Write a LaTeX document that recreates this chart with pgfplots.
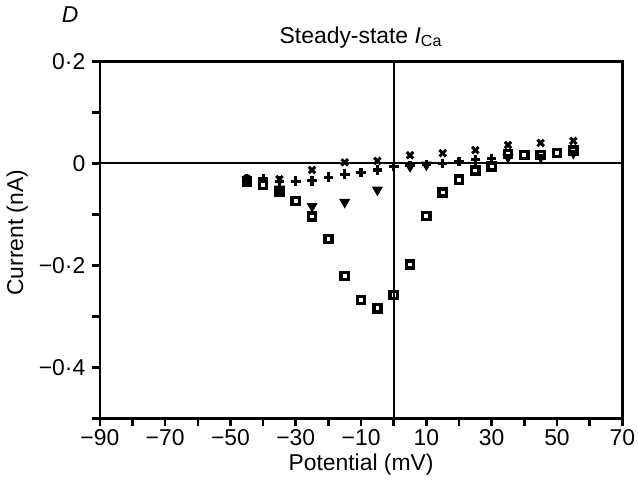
\documentclass[border=0pt]{standalone}
\usepackage{fontspec}
\setmainfont{Liberation Sans}
\usepackage{pgfplots}
\pgfplotsset{compat=1.18}
\begin{document}
\begin{tikzpicture}
\begin{axis}[
  scale only axis,
  width=262.5pt, height=179.5pt,
  xmin=-90, xmax=70, ymin=-0.5, ymax=0.2,
  clip=false,
  font=\fontsize{11.5}{13}\selectfont,
  axis line style={line width=1.3pt},
  every tick/.style={line width=1.3pt, black},
  major tick length=3.8pt,
  tick align=outside,
  xtick pos=bottom, ytick pos=left,
  xtick={-90,-80,-70,-60,-50,-40,-30,-20,-10,0,10,20,30,40,50,60,70},
  xticklabels={−90,,−70,,−50,,−30,,−10,,10,,30,,50,,70},
  ytick={-0.5,-0.4,-0.3,-0.2,-0.1,0,0.1,0.2},
  yticklabels={,−0·4,,−0·2,,0,,0·2},
  xticklabel style={inner sep=1.5pt},
  title={Steady-state \textit{I}\textsubscript{Ca}},
  title style={at={(axis description cs:0.5,1.017)}, anchor=base},
  xlabel={Potential (mV)},
  xlabel style={at={(axis description cs:0.5,-0.145)}, anchor=base},
  ylabel={Current (nA)},
  ylabel style={at={(axis description cs:-0.158,0.52)}, anchor=center},
]
\path (rel axis cs:-0.1905,1.1671) rectangle (rel axis cs:1.0248,-0.1671);
\draw[line width=1.1pt] (axis cs:0,-0.5) -- (axis cs:0,0.2);
\draw[line width=1.1pt] (axis cs:-90,0) -- (axis cs:70,0);
\node[font=\fontsize{11.5}{13}\selectfont\itshape] at (rel axis cs:-0.057,1.131) {D};

% open squares
\addplot[only marks, mark=square, mark size=1.8pt, line width=1.7pt, black] coordinates {
(-45,-0.035) (-40,-0.042) (-35,-0.055) (-30,-0.074) (-25,-0.104) (-20,-0.148)
(-15,-0.221) (-10,-0.268) (-5,-0.284) (0,-0.258) (5,-0.198) (10,-0.103)
(15,-0.057) (20,-0.032) (25,-0.014) (30,-0.006) (35,0.018) (40,0.016)
(45,0.016) (50,0.02) (55,0.025)};
% filled triangles (down)
\addplot[only marks, mark=triangle*, mark size=2.8pt, black, mark options={rotate=180}] coordinates {
(-45,-0.032) (-35,-0.05) (-25,-0.084) (-15,-0.076) (-5,-0.052) (5,-0.006) (10,-0.003)
(35,0.012) (45,0.012) (55,0.02)};
% plus
\addplot[only marks, mark=+, mark size=2.4pt, line width=1.6pt, black] coordinates {
(-45,-0.03) (-40,-0.03) (-35,-0.035) (-30,-0.035) (-25,-0.034) (-20,-0.027)
(-15,-0.021) (-10,-0.018) (-5,-0.013) (0,-0.006) (5,-0.004) (10,-0.002)
(15,0.0) (20,0.004) (25,0.007) (30,0.01)};
% crosses
\addplot[only marks, mark=x, mark size=2.3pt, line width=1.5pt, black] coordinates {
(-45,-0.03) (-35,-0.031) (-25,-0.013) (-15,0.002) (-5,0.005) (5,0.016)
(15,0.02) (25,0.026) (35,0.036) (45,0.04) (55,0.044)};
\end{axis}
\end{tikzpicture}
\end{document}
